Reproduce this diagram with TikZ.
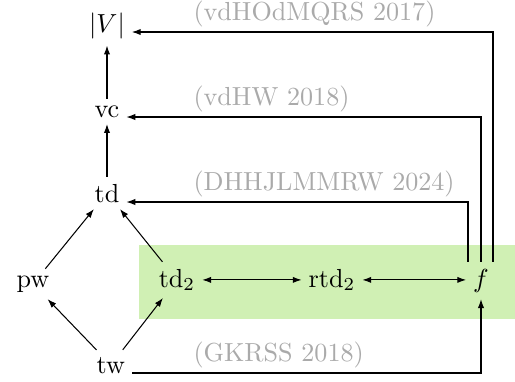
\documentclass[tikz,border=0pt]{standalone}
\usetikzlibrary{arrows.meta}
\definecolor{bgreen}{RGB}{208,240,180}
\definecolor{lgray}{RGB}{170,170,170}
\begin{document}
\begin{tikzpicture}[x=0.383pt,y=-0.383pt,
  nd/.style={inner sep=2.5pt,anchor=base},
  cite/.style={inner sep=0pt,anchor=base west,text=lgray},
  arr/.style={-{Latex[length=3.4pt,width=2.4pt]},line width=0.4pt},
  darr/.style={{Latex[length=3.4pt,width=2.4pt]}-{Latex[length=3.4pt,width=2.4pt]},line width=0.4pt}]
\useasboundingbox (0,0) rectangle (515,381);
\fill[bgreen] (139,245) rectangle (515,319);
\node[nd] (V) at (107,32) {$|V|$};
\node[nd] (vc) at (107,117) {$\mathrm{vc}$};
\node[nd] (td) at (107,202) {$\mathrm{td}$};
\node[nd] (pw) at (33,287) {$\mathrm{pw}$};
\node[nd] (td2) at (177,287) {$\mathrm{td}_2$};
\node[nd] (rtd2) at (332,287) {$\mathrm{rtd}_2$};
\node[nd] (f) at (481,287) {$f$};
\node[nd] (tw) at (111,373) {$\mathrm{tw}$};
\node[cite] (c1) at (193,20.5) {(vdHOdMQRS 2017)};
\node[cite] (c2) at (193,105.5) {(vdHW 2018)};
\node[cite] (c3) at (193,190.5) {(DHHJLMMRW 2024)};
\node[cite] (c4) at (193,361.5) {(GKRSS 2018)};
\draw[arr] (vc) -- (V);
\draw[arr] (td) -- (vc);
\draw[arr] (pw) -- (td);
\draw[arr] (td2) -- (td);
\draw[arr] (tw) -- (pw);
\draw[arr] (tw) -- (td2);
\draw[darr] (td2) -- (rtd2);
\draw[darr] (rtd2) -- (rtd2 -| f.west);
\draw[arr] ([xshift=12*0.383pt]f.north) |- (V.base east);
\draw[arr] (f.north) |- (vc.base east);
\draw[arr] ([xshift=-13*0.383pt]f.north) |- (td.base east);
\draw[arr] (tw.base east) -| (f.south);
\end{tikzpicture}
\end{document}
